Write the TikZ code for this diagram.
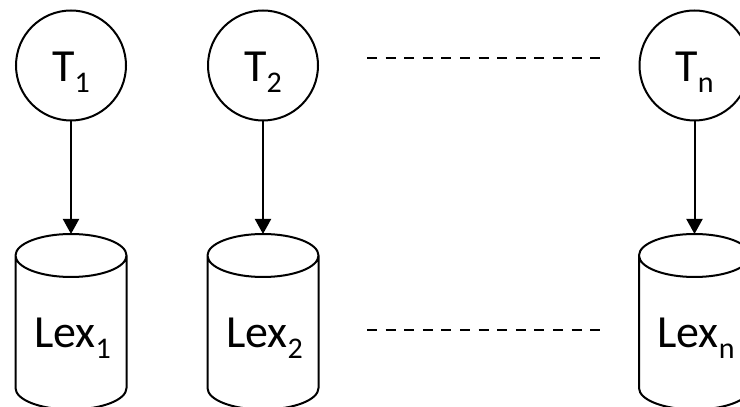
\documentclass[tikz,border=0pt]{standalone}
\usepackage{fontspec}
\setmainfont{Carlito}
\usetikzlibrary{arrows.meta}
\newcommand\mysub[1]{\raisebox{-11pt}{\fontsize{30}{32}\selectfont #1}}
\begin{document}
\begin{tikzpicture}[x=1pt,y=1pt,
  lw/.style={line width=2pt},
  tnode/.style={circle,draw,lw,minimum size=110pt,inner sep=0pt,text height=40pt,text depth=7pt,font=\fontsize{46}{50}\selectfont},
  lexnode/.style={anchor=base,inner sep=0pt,font=\fontsize{46}{50}\selectfont},
  cyl/.style={draw,lw,fill=white,line join=round},
  link/.style={lw,-{Triangle[width=16pt,length=15pt]}},
  dots/.style={lw,dash pattern=on 10pt off 8.6pt}]
\clip (0,0) rectangle (740,407);
\foreach \i/\x in {1/71,2/263,n/694.5}{
  \node[tnode] (t\i) at (\x,341.5) {T\mysub{\i}};
  \draw[cyl] (\x-55.5,151.5) -- (\x-55.5,19)
     arc[start angle=180,end angle=360,x radius=55.5,y radius=21.5]
     -- (\x+55.5,151.5)
     arc[start angle=0,end angle=360,x radius=55.5,y radius=21.5];
  \coordinate (c\i) at (\x,173);
  \node[lexnode] (lex\i) at (\x+1.5,59) {Lex\mysub{\i}};
  \draw[link] (t\i) -- (c\i);
}
\coordinate (d1a) at (367,349);
\coordinate (d1b) at (601,349);
\coordinate (d2a) at (367,77);
\coordinate (d2b) at (601,77);
\draw[dots] (d1a) -- (d1b);
\draw[dots] (d2a) -- (d2b);
\end{tikzpicture}
\end{document}
